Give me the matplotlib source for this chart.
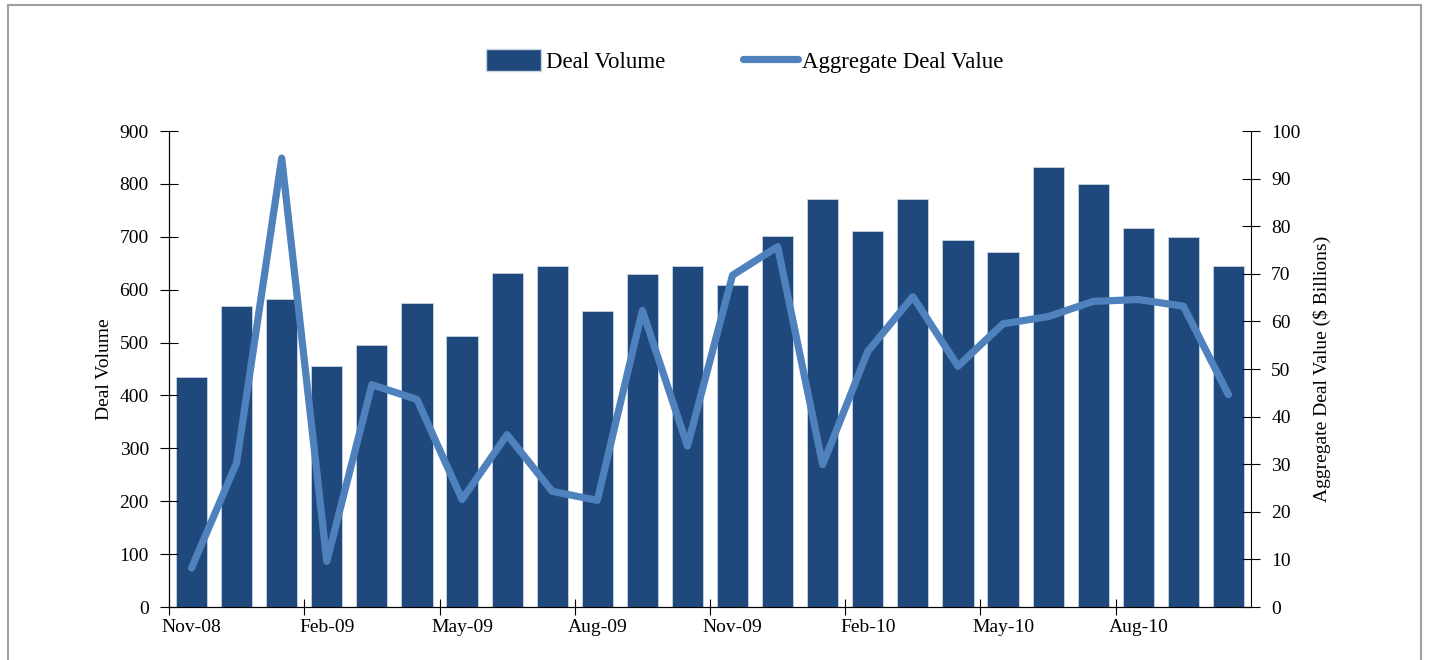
import matplotlib
matplotlib.use('Agg')
import matplotlib.pyplot as plt
from matplotlib.patches import Rectangle
from matplotlib.lines import Line2D
from matplotlib.patches import Patch

plt.rcParams['font.family'] = ['Liberation Serif', 'DejaVu Serif']

months = ['Nov-08', 'Dec-08', 'Jan-09', 'Feb-09', 'Mar-09', 'Apr-09', 'May-09', 'Jun-09',
          'Jul-09', 'Aug-09', 'Sep-09', 'Oct-09', 'Nov-09', 'Dec-09', 'Jan-10', 'Feb-10',
          'Mar-10', 'Apr-10', 'May-10', 'Jun-10', 'Jul-10', 'Aug-10', 'Sep-10', 'Oct-10']
deal_volume = [435, 570, 582, 456, 495, 575, 512, 631, 645, 560, 630, 645,
               608, 701, 771, 711, 771, 693, 671, 832, 800, 716, 700, 644]
deal_value = [8.2, 30.3, 94.3, 9.6, 46.7, 43.6, 22.6, 36.2, 24.3, 22.4, 62.3, 33.8,
              69.7, 75.7, 29.9, 53.7, 65.2, 50.6, 59.5, 61.0, 64.2, 64.6, 63.2, 44.6]

bar_color = '#1F497D'
line_color = '#4F81BD'

fig = plt.figure(figsize=(14.29, 6.6), dpi=100)
# outer frame
fig.patches.append(Rectangle((8 / 1429, -0.05), 1413 / 1429, 1.0 - 5 / 660 + 0.05,
                             transform=fig.transFigure, fill=False,
                             edgecolor='#A0A0A0', linewidth=1.5))

ax = fig.add_axes([169 / 1429, 53 / 660, 1082 / 1429, 476 / 660])
x = list(range(len(months)))
ax.bar(x, deal_volume, width=0.69, color=bar_color, edgecolor='#C8D3E2', linewidth=0.6)
ax.set_xlim(-0.5, len(months) - 0.5)
ax.set_ylim(0, 900)
ax.set_yticks(range(0, 901, 100))
ax.set_ylabel('Deal Volume', fontsize=14, labelpad=5)

ax2 = ax.twinx()
ax2.plot(x, deal_value, color=line_color, linewidth=5.2, solid_capstyle='round',
         solid_joinstyle='round')
ax2.set_ylim(0, 100)
ax2.set_yticks(range(0, 101, 10))
ax2.set_ylabel('Aggregate Deal Value ($ Billions)', fontsize=14, labelpad=9)

# category ticks between months, labels under every third month
ax.set_xticks([i - 0.5 for i in range(0, len(months), 3)])
ax.set_xticklabels([])
ax.set_xticks(x[::3], minor=True)
ax.set_xticklabels(months[::3], minor=True, fontsize=14)
ax.tick_params(axis='x', which='major', direction='inout', length=11, width=0.8)
ax.tick_params(axis='x', which='minor', length=0, pad=9)
ax.tick_params(axis='y', direction='inout', length=13, width=0.8, labelsize=14, pad=8)
ax2.tick_params(axis='y', direction='inout', length=13, width=0.8, labelsize=14, pad=8)

for a in (ax, ax2):
    a.spines['top'].set_visible(False)
ax.spines['right'].set_visible(False)

handles = [Patch(facecolor=bar_color, edgecolor='#C8D3E2', label='Deal Volume'),
           Line2D([0], [0], color=line_color, linewidth=5.2, solid_capstyle='round',
                  label='Aggregate Deal Value')]
fig.legend(handles=handles, loc='center', bbox_to_anchor=(745 / 1429, 1 - 61 / 660),
           ncol=2, frameon=False, fontsize=16.5, handlelength=2.4, handleheight=1.1,
           handletextpad=0.2, columnspacing=3.4)

fig.savefig('out.png', dpi=100)
